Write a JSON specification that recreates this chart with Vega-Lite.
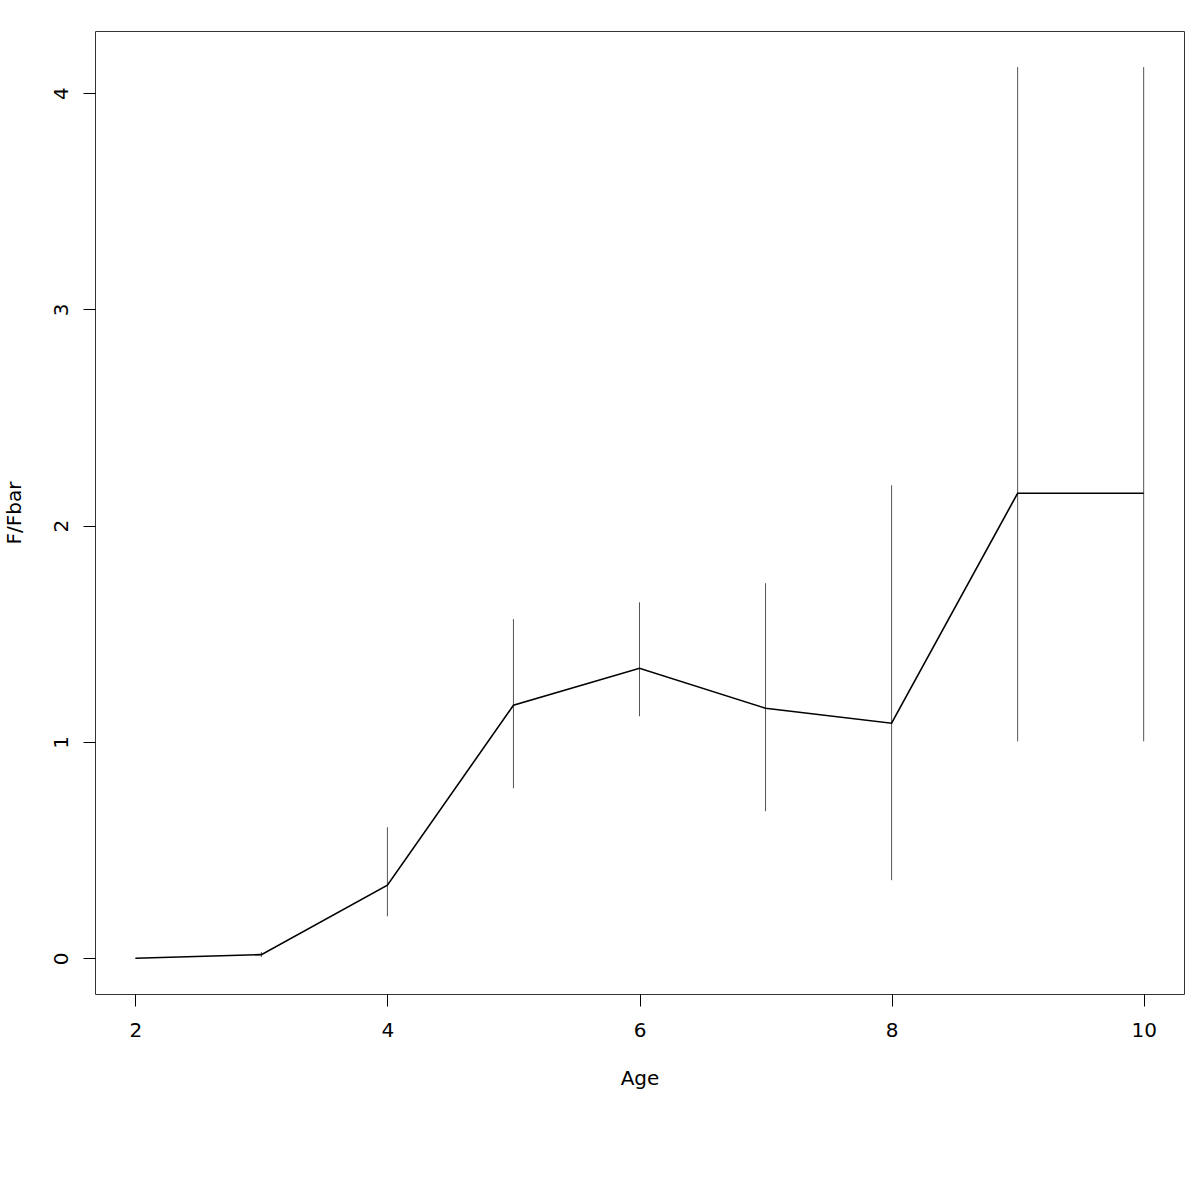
{
  "$schema": "https://vega.github.io/schema/vega-lite/v6.json",
  "width": 1089,
  "height": 963,
  "autosize": {"type": "none"},
  "padding": {"left": 95, "top": 31, "right": 16, "bottom": 206},
  "background": "white",
  "config": {
    "view": {"stroke": "#333333", "strokeWidth": 1},
    "font": "DejaVu Sans",
    "axis": {
      "grid": false,
      "domain": false,
      "tickColor": "#000000",
      "tickSize": 12,
      "labelFont": "DejaVu Sans",
      "labelFontSize": 20,
      "labelColor": "#000000",
      "titleFont": "DejaVu Sans",
      "titleFontSize": 20,
      "titleFontWeight": "normal",
      "titleColor": "#000000"
    }
  },
  "data": {
    "values": [
      {"Age": 2, "ratio": 0.0, "lo": 0.0, "hi": 0.0},
      {"Age": 3, "ratio": 0.017, "lo": 0.006, "hi": 0.029},
      {"Age": 4, "ratio": 0.338, "lo": 0.194, "hi": 0.606},
      {"Age": 5, "ratio": 1.17, "lo": 0.786, "hi": 1.568},
      {"Age": 6, "ratio": 1.341, "lo": 1.119, "hi": 1.646},
      {"Age": 7, "ratio": 1.156, "lo": 0.68, "hi": 1.734},
      {"Age": 8, "ratio": 1.087, "lo": 0.361, "hi": 2.187},
      {"Age": 9, "ratio": 2.15, "lo": 1.003, "hi": 4.12},
      {"Age": 10, "ratio": 2.15, "lo": 1.003, "hi": 4.12}
    ]
  },
  "layer": [
    {
      "mark": {"type": "rule", "color": "#555555", "strokeWidth": 1},
      "encoding": {
        "x": {"field": "Age", "type": "quantitative"},
        "y": {"field": "lo", "type": "quantitative"},
        "y2": {"field": "hi"}
      }
    },
    {
      "mark": {"type": "line", "color": "#000000", "strokeWidth": 1.6},
      "encoding": {
        "x": {
          "field": "Age",
          "type": "quantitative",
          "scale": {"domain": [1.68, 10.32], "nice": false, "zero": false},
          "axis": {"values": [2, 4, 6, 8, 10], "title": "Age", "labelPadding": 14, "titlePadding": 28, "format": "d"}
        },
        "y": {
          "field": "ratio",
          "type": "quantitative",
          "scale": {"domain": [-0.165, 4.287], "nice": false, "zero": false},
          "axis": {"values": [0, 1, 2, 3, 4], "title": "F/Fbar", "labelAngle": -90, "labelAlign": "center", "labelBaseline": "bottom", "labelPadding": 12, "titlePadding": 27, "format": "d"}
        }
      }
    }
  ]
}
